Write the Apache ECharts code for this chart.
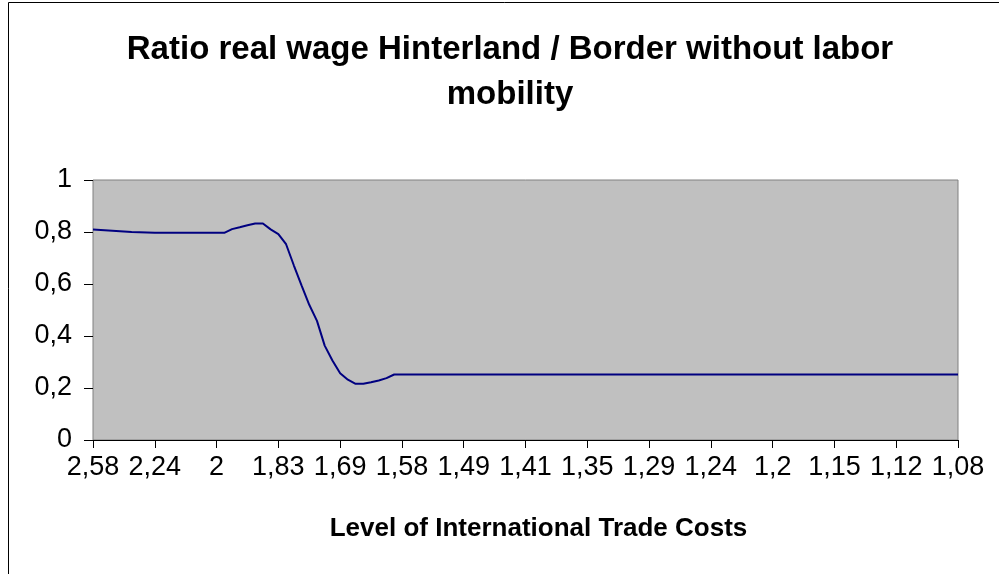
<!DOCTYPE html>
<html>
<head>
<meta charset="utf-8" />
<title>Ratio real wage</title>
<script type="text/javascript" src="https://cdn.jsdelivr.net/npm/echarts@6/dist/echarts.min.js"></script>
<style type="text/css">
html, body {
	width: 100%;
	height: 100%;
	margin: 0;
	background: #fff;
}
#main {
	width: 999px;
	height: 574px;
}
</style>
</head>
<body>
<div id="main"></div>
<script type="text/javascript">
// labels shown under every 8th point
var tickLabels = ['2,58', '2,24', '2', '1,83', '1,69', '1,58', '1,49', '1,41',
    '1,35', '1,29', '1,24', '1,2', '1,15', '1,12', '1,08'];
var labelStep = 8;

// ratio hinterland / border, one value per trade cost level
var ratio = [
    0.810, 0.808, 0.806, 0.804, 0.802, 0.800, 0.799, 0.798, 0.797,
    0.797, 0.797, 0.797, 0.797, 0.797, 0.797, 0.797, 0.797, 0.797,
    0.811, 0.818, 0.826, 0.833, 0.833, 0.810, 0.792, 0.753,
    0.672, 0.595, 0.520, 0.458, 0.363, 0.306, 0.257, 0.232, 0.216, 0.216,
    0.222, 0.229, 0.238, 0.252,
    0.252, 0.252, 0.252, 0.252, 0.252, 0.252, 0.252, 0.252, 0.252, 0.252,
    0.252, 0.252, 0.252, 0.252, 0.252, 0.252, 0.252, 0.252, 0.252, 0.252,
    0.252, 0.252, 0.252, 0.252, 0.252, 0.252, 0.252, 0.252, 0.252, 0.252,
    0.252, 0.252, 0.252, 0.252, 0.252, 0.252, 0.252, 0.252, 0.252, 0.252,
    0.252, 0.252, 0.252, 0.252, 0.252, 0.252, 0.252, 0.252, 0.252, 0.252,
    0.252, 0.252, 0.252, 0.252, 0.252, 0.252, 0.252, 0.252, 0.252, 0.252,
    0.252, 0.252, 0.252, 0.252, 0.252, 0.252, 0.252, 0.252, 0.252, 0.252,
    0.252, 0.252, 0.252
];

var categories = ratio.map(function (v, i) {
    return i % labelStep === 0 ? tickLabels[i / labelStep] : '';
});

var font = "'Liberation Sans', Arial, sans-serif";
var chart = echarts.init(document.getElementById('main'), null, {renderer: 'canvas'});

var option = {
    animation: false,
    backgroundColor: '#fff',
    textStyle: {fontFamily: font},
    title: {
        text: 'Ratio real wage Hinterland / Border without labor\nmobility',
        left: 510,
        top: 27,
        padding: 0,
        textAlign: 'center',
        textStyle: {
            fontFamily: font,
            fontSize: 33,
            fontWeight: 'bold',
            color: '#000',
            lineHeight: 45
        }
    },
    graphic: [{
        type: 'rect',
        shape: {x: 8.5, y: 2.5, width: 1200, height: 800},
        style: {fill: 'none', stroke: '#000', lineWidth: 1},
        silent: true,
        z: -1
    }],
    grid: {
        left: 93,
        right: 41,
        top: 180,
        bottom: 134,
        show: true,
        backgroundColor: '#c0c0c0',
        borderColor: '#808080',
        borderWidth: 1
    },
    xAxis: {
        type: 'category',
        data: categories,
        boundaryGap: false,
        name: 'Level of International Trade Costs',
        nameLocation: 'middle',
        nameGap: 76,
        nameTextStyle: {
            fontFamily: font,
            fontSize: 26,
            fontWeight: 'bold',
            color: '#000',
            padding: [0, 0, 0, 26]
        },
        axisLine: {lineStyle: {color: '#000', width: 1}},
        axisTick: {show: true, interval: labelStep - 1, length: 8, lineStyle: {color: '#000'}},
        axisLabel: {
            interval: labelStep - 1,
            margin: 14,
            fontFamily: font,
            fontSize: 27,
            color: '#000'
        },
        splitLine: {show: false}
    },
    yAxis: {
        type: 'value',
        min: 0,
        max: 1,
        interval: 0.2,
        axisLine: {show: false},
        axisTick: {show: true, length: 9, lineStyle: {color: '#000'}},
        axisLabel: {
            margin: 21,
            fontFamily: font,
            fontSize: 27,
            color: '#000',
            formatter: function (v) {
                return String(+v.toFixed(1)).replace('.', ',');
            }
        },
        splitLine: {show: false}
    },
    series: [{
        name: 'Ratio',
        type: 'line',
        data: ratio,
        showSymbol: false,
        symbol: 'none',
        lineStyle: {color: '#000080', width: 2},
        itemStyle: {color: '#000080'}
    }]
};

chart.setOption(option);
</script>
</body>
</html>
